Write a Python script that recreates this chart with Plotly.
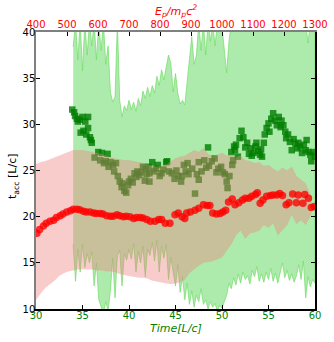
import numpy as np
import plotly.graph_objects as go

# red circles: acceleration time of protons
red_t = [30.1, 30.4, 30.8, 31.1, 31.5, 31.9, 32.2, 32.6, 32.9, 33.3, 33.7, 34.0, 34.4, 34.7,
         35.1, 35.4, 35.8, 36.2, 36.5, 36.9, 37.2, 37.6, 38.0, 38.3, 38.7, 39.0, 39.4, 39.7,
         40.1, 40.5, 40.8, 41.2, 41.5, 41.9, 42.3, 42.8, 43.2, 43.5, 43.9, 44.4, 44.95, 45.3,
         45.7, 46.0, 46.2, 46.6, 47.1, 47.5, 48.0, 48.4, 48.7, 49.0, 49.4, 49.8, 50.1, 50.4,
         50.7, 51.1, 51.4, 51.8, 52.2, 52.5, 52.9, 53.2, 53.6, 53.8, 54.1, 54.4, 54.8, 55.2,
         55.5, 55.9, 56.2, 56.5, 56.9, 57.2, 57.6, 58.0, 58.2, 58.7, 58.9, 59.3, 59.6, 59.9]
red_v = [18.2, 18.6, 19.0, 19.3, 19.5, 19.6, 19.9, 20.1, 20.3, 20.5, 20.65, 20.8, 20.8, 20.75,
         20.6, 20.5, 20.5, 20.4, 20.35, 20.35, 20.3, 20.1, 20.05, 20.05, 20.2, 20.1, 20.0, 20.05,
         20.0, 19.8, 19.9, 19.9, 19.85, 19.7, 19.5, 19.5, 19.7, 19.7, 19.3, 19.3, 20.2, 20.4,
         20.0, 19.8, 20.4, 20.5, 20.7, 20.9, 21.3, 21.2, 21.2, 20.4, 20.3, 20.35, 20.5, 20.7,
         21.6, 21.9, 21.3, 21.5, 21.8, 22.0, 22.0, 22.2, 22.4, 22.6, 21.45, 21.8, 22.2, 22.3,
         22.35, 22.35, 22.5, 22.3, 21.3, 21.5, 22.45, 21.5, 22.35, 21.45, 22.4, 22.0, 21.0, 21.1]

# red band (spread of red circles)
band_r_t = [30.0, 30.5, 31.0, 31.5, 32.0, 32.5, 33.0, 33.5, 34.0, 34.5, 35.0, 35.5, 36.0, 36.5,
            37.0, 37.5, 38.0, 38.5, 39.0, 39.5, 40.0, 40.5, 41.0, 41.5, 42.0, 42.5, 43.0, 43.5,
            44.0, 44.5, 45.0, 45.5, 46.0, 46.5, 47.0, 47.5, 48.0, 48.5, 49.0, 49.5, 50.0, 50.5,
            51.0, 51.5, 52.0, 52.5, 53.0, 53.5, 54.0, 54.5, 55.0, 55.5, 56.0, 56.5, 57.0, 57.5,
            58.0, 58.5, 59.0, 59.6]
band_r_hi = [25.7, 25.9, 26.0, 26.2, 26.4, 26.6, 26.8, 27.0, 27.2, 27.2, 27.2, 27.1, 27.0, 26.9,
             26.8, 26.6, 26.4, 26.3, 26.2, 26.1, 26.1, 26.0, 25.9, 25.8, 25.6, 25.5, 25.4, 25.5,
             25.6, 26.0, 26.3, 26.5, 26.6, 26.9, 27.2, 27.0, 27.4, 26.8, 26.5, 26.7, 26.9, 26.6,
             26.7, 26.4, 26.6, 26.1, 26.0, 25.8, 25.9, 25.5, 25.6, 25.2, 24.9, 25.3, 25.0, 25.4,
             24.4, 24.0, 23.6, 22.2]
band_r_lo = [11.0, 11.7, 12.3, 12.7, 13.1, 13.6, 13.9, 14.1, 14.2, 14.3, 14.3, 14.3, 14.3, 14.2,
             14.2, 14.1, 14.1, 14.0, 13.8, 13.7, 13.6, 13.5, 13.4, 13.4, 13.3, 13.1, 13.0, 12.9,
             12.8, 12.7, 12.8, 12.9, 13.2, 13.9, 14.3, 14.7, 15.0, 15.1, 15.2, 15.4, 15.6, 16.3,
             17.0, 18.0, 18.5, 17.6, 18.2, 18.3, 18.5, 19.1, 18.8, 19.3, 18.0, 18.6, 19.1, 20.2,
             19.2, 19.6, 19.1, 20.3]

# green squares
sq_t = [33.9, 34.1, 34.2, 34.4, 34.5, 34.7, 34.8, 35.0, 35.1, 35.3, 35.4, 35.6, 35.6, 35.8,
        35.9, 36.0, 36.3, 36.7, 36.9, 37.1, 37.3, 37.5, 37.7, 37.8, 38.0, 38.3, 38.4, 38.6,
        38.8, 39.0, 39.2, 39.3, 39.5, 39.7, 39.9, 40.0, 40.2, 40.4, 40.6, 40.8, 40.9, 41.1,
        41.3, 41.5, 41.7, 41.8, 41.9, 42.1, 42.2, 42.2, 42.5, 42.7, 42.9, 43.1, 43.3, 43.5,
        43.7, 44.0, 44.1, 44.3, 44.6, 44.9, 45.1, 45.3, 45.6, 45.7, 45.9, 46.1, 46.3, 46.4,
        46.8, 47.1, 47.3, 47.5, 47.5, 47.8, 48.1, 48.3, 48.5, 48.6, 48.9, 49.2, 49.4, 49.6,
        49.9, 50.1, 50.3, 50.5, 50.6, 50.8, 51.0, 51.1, 51.2, 51.3, 51.4, 51.5, 51.7, 51.9,
        52.1, 52.3, 52.5, 52.7, 52.9, 53.1, 53.2, 53.4, 53.6, 53.7, 53.9, 54.1, 54.2, 54.3,
        54.5, 54.6, 54.8, 55.0, 55.1, 55.3, 55.5, 55.7, 55.9, 56.1, 56.3, 56.4, 56.6, 56.8,
        56.9, 57.1, 57.3, 57.5, 57.7, 57.9, 58.1, 58.2, 58.4, 58.6, 58.8, 59.0, 59.1, 59.3,
        59.5, 59.6, 59.8, 60.0]
sq_v = [31.6, 31.3, 30.9, 30.6, 30.3, 30.5, 29.1, 30.8, 29.3, 30.3, 28.9, 30.8, 29.6, 28.6,
        28.3, 28.0, 26.4, 27.0, 26.1, 26.9, 25.8, 26.0, 26.8, 25.4, 25.9, 25.6, 24.9, 25.8,
        24.4, 23.8, 23.2, 23.6, 22.8, 22.6, 23.4, 23.8, 24.1, 23.7, 24.7, 24.3, 24.9, 24.5,
        24.8, 25.4, 23.9, 25.2, 24.6, 25.4, 24.7, 23.8, 25.9, 24.9, 25.2, 25.6, 24.4, 24.7,
        25.1, 25.9, 26.0, 24.9, 24.7, 24.1, 25.0, 24.4, 23.8, 24.4, 25.6, 24.9, 25.8, 24.6,
        25.2, 22.5, 24.6, 24.0, 25.9, 24.9, 26.1, 25.3, 27.5, 25.5, 26.0, 26.3, 24.8, 25.2,
        25.4, 24.8, 24.6, 23.8, 23.1, 24.4, 27.0, 25.6, 26.1, 27.6, 27.2, 27.8, 26.5, 28.5,
        29.3, 28.6, 27.5, 28.0, 26.8, 27.4, 26.6, 26.9, 27.6, 28.0, 27.1, 26.7, 27.3, 26.5,
        28.0, 28.9, 29.6, 30.1, 29.2, 30.6, 31.2, 30.4, 29.9, 30.8, 29.7, 30.4, 29.9, 29.2,
        28.5, 28.9, 28.1, 27.2, 28.4, 27.9, 27.4, 28.0, 27.6, 26.9, 27.8, 27.2, 28.3, 27.0,
        26.7, 26.0, 27.0, 26.5]

# green band, sampled every 0.25 L/c from 34 to 60
band_g_t = np.arange(34.0, 60.001, 0.25)
band_g_hi = [38.4, 41, 37.0, 41, 35.8, 41, 37.5, 41, 38.5, 41, 37.0, 41, 38.0, 41, 36.5, 38.5,
             33.5, 32.4, 33.0, 41, 32.6, 30.8, 32.0, 31.5, 32.6, 31.6, 32.4, 31.4, 32.8, 32.0,
             33.6, 32.8, 34.0, 33.0, 34.2, 33.4, 35.2, 34.2, 35.9, 34.8, 36.2, 37.5, 36.6, 33.5,
             35.5, 33.4, 32.2, 32.6, 32.1, 34.5, 36.6, 39.5, 36.5, 37.5, 41, 38.0, 41, 37.5,
             41, 39.0, 41, 38.5, 41, 41, 40.5, 38.0, 35.6, 39.0, 41, 41, 41, 41, 41, 41,
             41, 41, 41, 41, 41, 41, 41, 41, 41, 41, 41, 41, 41, 41, 41, 41, 41, 41, 41,
             41, 41, 41, 41, 41, 41, 41, 41, 38.8, 41, 41, 41]
band_g_lo = [17.0, 13.0, 16.5, 14.0, 17.0, 14.5, 16.0, 15.0, 16.2, 12.5, 15.0, 11.0, 10.2, 9.5,
             10.8, 9.8, 12.0, 15.5, 11.2, 15.8, 16.4, 12.5, 16.0, 15.3, 16.5, 15.4, 17.1, 14.0,
             16.2, 15.0, 16.8, 13.5, 16.5, 15.8, 17.2, 15.2, 17.5, 14.0, 16.8, 15.5, 17.0, 13.2,
             15.6, 14.0, 12.5, 14.8, 11.8, 13.5, 11.0, 12.8, 10.5, 12.0, 10.2, 11.5, 10.8, 12.2,
             10.5, 11.0, 10.0, 10.8, 10.2, 10.6, 9.8, 10.4, 10.1, 10.8, 11.5, 12.8, 12.2, 13.4,
             12.6, 13.8, 12.8, 14.0, 13.2, 13.6, 12.7, 14.2, 13.5, 14.6, 13.0, 13.8, 12.9, 14.0,
             13.2, 14.4, 13.0, 13.9, 12.8, 14.0, 15.0, 13.4, 14.2, 13.1, 13.8, 12.9, 13.6, 14.8,
             13.2, 15.2, 11.2, 13.5, 12.4, 13.2, 12.8]

# top axis: proton energy
ep_ticks = [400, 500, 600, 700, 800, 900, 1000, 1100, 1200, 1300]
time_ticks = [30, 35, 40, 45, 50, 55, 60]
tacc_ticks = [10, 15, 20, 25, 30, 35, 40]

fig = go.Figure()

# green band as closed polygon
fig.add_trace(go.Scatter(
    x=list(band_g_t) + list(band_g_t[::-1]),
    y=list(band_g_hi) + list(band_g_lo[::-1]),
    fill='toself', fillcolor='rgba(50,205,50,0.4)',
    line=dict(color='rgba(110,220,100,0.85)', width=0.8),
    mode='lines', hoverinfo='skip'
))

fig.add_trace(go.Scatter(
    x=sq_t, y=sq_v, mode='markers',
    marker=dict(symbol='square', size=6.5, color='rgba(0,125,0,0.8)', line=dict(width=0))
))

# red band on top of the squares (turns them olive)
fig.add_trace(go.Scatter(
    x=band_r_t + band_r_t[::-1],
    y=band_r_hi + band_r_lo[::-1],
    fill='toself', fillcolor='rgba(240,128,128,0.4)',
    line=dict(color='rgba(240,128,128,0.2)', width=0.5),
    mode='lines', hoverinfo='skip'
))

fig.add_trace(go.Scatter(
    x=red_t, y=red_v, mode='markers',
    marker=dict(symbol='circle', size=7.5, color='rgba(255,0,0,0.78)', line=dict(width=0))
))

# dummy trace to make the twin axes show up
fig.add_trace(go.Scatter(x=[400], y=[10], xaxis='x2', yaxis='y2', mode='markers',
                         marker=dict(opacity=0), hoverinfo='skip'))

tick_font = dict(family='DejaVu Sans', size=10)

fig.update_layout(
    width=334, height=342,
    margin=dict(l=36, r=19, t=32, b=33, autoexpand=False),
    plot_bgcolor='white', paper_bgcolor='white',
    showlegend=False,
    font=dict(family='DejaVu Sans', size=10, color='black'),
    xaxis=dict(range=[30, 60], tickvals=time_ticks, ticks='inside', ticklen=4,
               tickcolor='black', showline=True, linecolor='black', linewidth=1.5,
               showgrid=False, zeroline=False, automargin=False, ticklabelstandoff=-4,
               tickfont=dict(tick_font, color='green')),
    yaxis=dict(range=[10, 40], tickvals=tacc_ticks, ticks='inside', ticklen=4,
               tickcolor='black', showline=True, linecolor='grey', linewidth=1.5,
               showgrid=False, zeroline=False, automargin=False, ticklabelstandoff=-3,
               tickfont=tick_font),
    xaxis2=dict(range=[400, 1300], tickvals=ep_ticks, overlaying='x', side='top', anchor='y2',
                ticks='inside', ticklen=4, tickcolor='black', showline=True,
                linecolor='grey', linewidth=1.5, showgrid=False, zeroline=False,
                automargin=False, ticklabelstandoff=-2,
                tickfont=dict(tick_font, color='red')),
    yaxis2=dict(range=[10, 40], tickvals=tacc_ticks, overlaying='y', side='right', anchor='x2',
                ticks='inside', ticklen=4, tickcolor='black', showline=True,
                linecolor='black', linewidth=1.5, showgrid=False, zeroline=False,
                automargin=False, showticklabels=False),
    annotations=[
        dict(text='<i>E<sub>p</sub>/m<sub>p</sub>c<sup>2</sup></i>', xref='paper', yref='paper',
             x=0.5, y=1.076, showarrow=False, font=dict(size=11, color='red'),
             xanchor='center', yanchor='middle'),
        dict(text='<i>Time[L/c]</i>', xref='paper', yref='paper',
             x=0.5, y=-0.072, showarrow=False, font=dict(size=11, color='green'),
             xanchor='center', yanchor='middle'),
        dict(text='t<sub>acc</sub> [L/c]', xref='paper', yref='paper',
             x=-0.082, y=0.477, showarrow=False, textangle=-90,
             font=dict(size=11, color='black'), xanchor='center', yanchor='middle'),
    ],
)

# drop the default page margin so the figure sits at the window's corner
fig.write_html("out.html", config={'displayModeBar': False},
               post_script="document.body.style.margin='0';")
